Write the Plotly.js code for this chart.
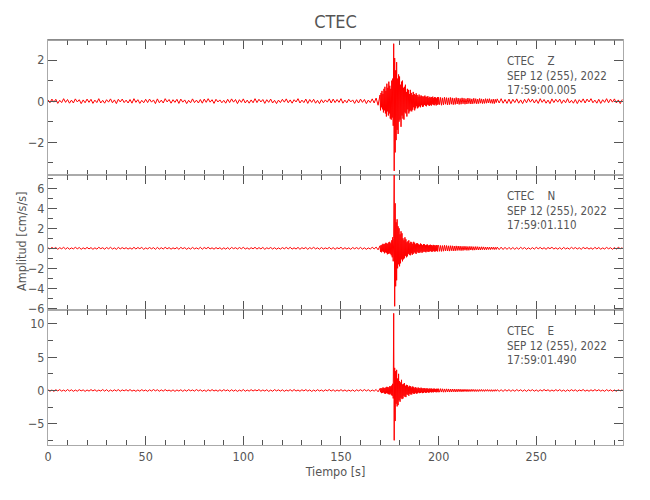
<!DOCTYPE html>
<html>
<head>
<meta charset="utf-8">
<script src="https://cdn.plot.ly/plotly-3.0.1.min.js"></script>
<style>html,body{margin:0;padding:0;background:#fff;}#chart{width:650px;height:500px;}</style>
</head>
<body>
<div id="chart"></div>
<script>
// ---- Data ----
// Sampling: pre-event 1 s steps from 0 s, event 0.25 s steps from 170 s, coda 0.5 s steps from 200 s, tail 1 s steps from 230 s
var preStart = 0, preStep = 1;
var evStart = 170, evStep = 0.25;
var codaStart = 200, codaStep = 0.5;
var tailStart = 230, tailStep = 1;

// Component Z (cm/s/s)
var zPre = [
0.06,-0.08,0.1,-0.05,0.09,-0.11,0.04,-0.07,0.12,-0.06,
0.08,-0.1,0.05,-0.09,0.11,-0.04,0.07,-0.12,0.06,-0.08,
0.1,-0.06,0.09,-0.11,0.05,-0.07,0.12,-0.09,0.04,-0.1,
0.07,-0.05,0.11,-0.08,0.06,-0.12,0.09,-0.04,0.1,-0.07,
0.05,-0.09,0.08,-0.1,0.12,-0.06,0.07,-0.11,0.04,-0.08,
0.09,-0.07,0.1,-0.05,0.06,-0.12,0.11,-0.08,0.05,-0.09,
0.12,-0.04,0.08,-0.1,0.07,-0.06,0.09,-0.11,0.1,-0.05,
0.06,-0.12,0.04,-0.08,0.11,-0.07,0.05,-0.09,0.08,-0.1,
0.1,-0.06,0.12,-0.05,0.07,-0.11,0.09,-0.04,0.06,-0.08,
0.04,-0.1,0.09,-0.07,0.11,-0.05,0.08,-0.12,0.07,-0.06,
0.11,-0.09,0.05,-0.1,0.06,-0.08,0.12,-0.07,0.09,-0.04,
0.08,-0.11,0.07,-0.06,0.1,-0.09,0.04,-0.12,0.05,-0.07,
0.09,-0.05,0.11,-0.08,0.06,-0.1,0.07,-0.04,0.12,-0.09,
0.05,-0.07,0.1,-0.11,0.08,-0.06,0.09,-0.1,0.04,-0.12,
0.07,-0.08,0.06,-0.05,0.11,-0.09,0.1,-0.07,0.08,-0.06,
0.12,-0.1,0.05,-0.08,0.09,-0.04,0.06,-0.11,0.07,-0.09,
0.1,-0.06,0.08,-0.12,0.05,-0.07,0.11,-0.09,0.15,-0.2];
var zEvent = [
0.3,-0.45,0.4,-0.3,0.5,-0.4,0.35,-0.55,
0.6,-0.45,0.7,-0.6,0.5,-0.75,0.85,-0.5,
0.65,-0.7,0.95,-0.6,0.75,-0.85,0.6,-0.9,
1.0,-0.8,1.1,-1.2,2.8,-3.4,2.1,-2.5,
1.5,-1.9,1.9,-1.4,1.1,-1.6,1.3,-1.0,
1.2,-0.9,0.8,-1.25,0.95,-0.7,1.0,-0.85,
0.65,-0.9,0.7,-0.55,0.8,-0.6,0.45,-0.75,
0.6,-0.4,0.55,-0.6,0.35,-0.5,0.55,-0.45,
0.4,-0.5,0.3,-0.42,0.45,-0.3,0.35,-0.45,
0.3,-0.35,0.38,-0.25,0.3,-0.35,0.22,-0.3,
0.32,-0.25,0.22,-0.3,0.28,-0.2,0.25,-0.28,
0.2,-0.26,0.24,-0.18,0.27,-0.22,0.2,-0.25,
0.22,-0.17,0.24,-0.2,0.16,-0.23,0.21,-0.18,
0.17,-0.22,0.2,-0.15,0.22,-0.18,0.15,-0.2,
0.2,-0.15,0.18,-0.21,0.14,-0.18,0.2,-0.16];
var zCoda = [
0.19,-0.17,0.18,-0.2,0.16,-0.18,0.19,-0.15,0.17,-0.18,
0.16,-0.17,0.18,-0.15,0.16,-0.17,0.14,-0.16,0.17,-0.14,
0.15,-0.16,0.13,-0.15,0.16,-0.13,0.14,-0.15,0.12,-0.14,
0.15,-0.12,0.13,-0.14,0.11,-0.13,0.14,-0.11,0.12,-0.13,
0.1,-0.12,0.13,-0.1,0.11,-0.12,0.09,-0.11,0.12,-0.1,
0.11,-0.09,0.12,-0.1,0.08,-0.11,0.1,-0.12,0.09,-0.07];
var zTail = [
0.11,-0.09,0.12,-0.1,0.08,-0.11,0.1,-0.12,0.09,-0.07,
0.11,-0.1,0.06,-0.12,0.09,-0.08,0.12,-0.05,0.1,-0.09,
0.07,-0.11,0.12,-0.06,0.08,-0.1,0.05,-0.12,0.11,-0.07,
0.09,-0.05,0.1,-0.11,0.06,-0.08,0.12,-0.09,0.04,-0.1,
0.08,-0.12,0.07,-0.06,0.11,-0.09,0.1,-0.04,0.12,-0.08,
0.05,-0.1,0.09,-0.11,0.07,-0.06,0.12,-0.08,0.1,-0.05,
0.11,-0.09,0.06,-0.12,0.08];

// Component N (cm/s/s)
var nPre = [
0.05,-0.07,0.09,-0.04,0.08,-0.1,0.06,-0.05,0.1,-0.08,
0.07,-0.09,0.04,-0.06,0.1,-0.05,0.08,-0.1,0.05,-0.07,
0.09,-0.06,0.07,-0.1,0.05,-0.08,0.1,-0.04,0.06,-0.09,
0.08,-0.05,0.1,-0.07,0.04,-0.1,0.09,-0.06,0.07,-0.05,
0.06,-0.08,0.05,-0.09,0.1,-0.07,0.08,-0.04,0.09,-0.1,
0.04,-0.06,0.08,-0.05,0.07,-0.1,0.09,-0.08,0.06,-0.07,
0.1,-0.05,0.07,-0.09,0.05,-0.06,0.08,-0.1,0.09,-0.04,
0.07,-0.1,0.05,-0.08,0.09,-0.06,0.04,-0.07,0.1,-0.09,
0.08,-0.04,0.1,-0.06,0.05,-0.09,0.07,-0.05,0.06,-0.1,
0.05,-0.08,0.07,-0.1,0.09,-0.04,0.06,-0.07,0.08,-0.05,
0.1,-0.07,0.04,-0.09,0.06,-0.05,0.1,-0.08,0.07,-0.06,
0.09,-0.1,0.05,-0.04,0.08,-0.07,0.06,-0.09,0.04,-0.08,
0.07,-0.05,0.09,-0.06,0.1,-0.08,0.05,-0.07,0.09,-0.1,
0.06,-0.04,0.08,-0.1,0.07,-0.05,0.1,-0.06,0.05,-0.09,
0.08,-0.07,0.04,-0.05,0.09,-0.08,0.07,-0.1,0.06,-0.04,
0.1,-0.09,0.06,-0.07,0.05,-0.1,0.08,-0.05,0.07,-0.06,
0.09,-0.08,0.05,-0.1,0.04,-0.07,0.1,-0.06,0.12,-0.15];
var nEvent = [
0.25,-0.35,0.3,-0.4,0.35,-0.3,0.45,-0.35,
0.4,-0.5,0.45,-0.4,0.55,-0.45,0.5,-0.6,
0.45,-0.55,0.6,-0.5,0.65,-0.55,0.5,-0.7,
0.8,-0.9,1.1,-1.3,1.0,7.6,-5.8,4.5,
-3.8,2.6,-3.2,2.9,-2.0,2.2,-1.6,2.0,
-1.8,1.4,-1.5,1.7,-1.1,1.5,-1.3,1.0,
-1.1,0.8,-1.0,1.1,-0.75,0.9,-0.9,0.6,
-0.8,0.7,-0.55,0.8,-0.65,0.5,-0.7,0.65,
-0.5,0.6,-0.65,0.45,-0.55,0.65,-0.4,0.55,
-0.5,0.4,-0.55,0.5,-0.35,0.5,-0.45,0.4,
-0.45,0.35,-0.42,0.48,-0.32,0.4,-0.45,0.3,
-0.38,0.42,-0.3,0.4,-0.36,0.3,-0.4,0.35,
-0.3,0.38,-0.34,0.28,-0.36,0.32,-0.3,0.36,
-0.28,0.33,-0.35,0.27,-0.32,0.34,-0.26,0.31,
-0.33,0.26,-0.3,0.33,-0.25,0.3,-0.32,0.27];
var nCoda = [
0.32,-0.3,0.28,-0.31,0.27,-0.29,0.3,-0.26,0.28,-0.27,
0.25,-0.28,0.26,-0.24,0.25,-0.26,0.23,-0.25,0.24,-0.22,
0.23,-0.21,0.22,-0.23,0.2,-0.22,0.21,-0.19,0.2,-0.21,
0.18,-0.2,0.19,-0.17,0.18,-0.19,0.16,-0.18,0.17,-0.15,
0.16,-0.17,0.14,-0.16,0.15,-0.13,0.14,-0.15,0.12,-0.14,
0.13,-0.12,0.11,-0.13,0.12,-0.1,0.11,-0.12,0.1,-0.11];
var nTail = [
0.12,-0.13,0.11,-0.12,0.1,-0.11,0.09,-0.1,0.08,-0.1,
0.07,-0.09,0.1,-0.06,0.08,-0.1,0.05,-0.09,0.07,-0.08,
0.1,-0.05,0.09,-0.07,0.06,-0.1,0.08,-0.04,0.1,-0.07,
0.05,-0.09,0.07,-0.1,0.09,-0.06,0.04,-0.08,0.1,-0.05,
0.08,-0.07,0.06,-0.1,0.09,-0.04,0.07,-0.08,0.05,-0.1,
0.1,-0.06,0.08,-0.09,0.04,-0.07,0.09,-0.05,0.06,-0.1,
0.07,-0.08,0.1,-0.04,0.06];

// Component E (cm/s/s)
var ePre = [
0.1,-0.12,0.08,-0.14,0.11,-0.07,0.13,-0.1,0.06,-0.12,
0.14,-0.08,0.1,-0.13,0.07,-0.11,0.12,-0.06,0.09,-0.14,
0.08,-0.1,0.13,-0.07,0.11,-0.12,0.06,-0.09,0.14,-0.1,
0.12,-0.14,0.07,-0.11,0.1,-0.08,0.13,-0.12,0.09,-0.06,
0.11,-0.09,0.14,-0.1,0.06,-0.13,0.08,-0.11,0.12,-0.07,
0.07,-0.13,0.1,-0.08,0.14,-0.06,0.11,-0.12,0.09,-0.1,
0.13,-0.07,0.06,-0.12,0.1,-0.14,0.08,-0.09,0.11,-0.13,
0.09,-0.11,0.12,-0.06,0.08,-0.1,0.14,-0.07,0.1,-0.12,
0.06,-0.14,0.11,-0.09,0.13,-0.08,0.07,-0.12,0.1,-0.11,
0.12,-0.06,0.09,-0.13,0.11,-0.1,0.08,-0.14,0.06,-0.09,
0.14,-0.12,0.07,-0.1,0.12,-0.08,0.1,-0.06,0.13,-0.11,
0.08,-0.09,0.11,-0.14,0.06,-0.12,0.13,-0.07,0.09,-0.1,
0.1,-0.13,0.06,-0.08,0.12,-0.11,0.14,-0.09,0.07,-0.12,
0.11,-0.07,0.13,-0.1,0.09,-0.14,0.06,-0.11,0.12,-0.08,
0.07,-0.12,0.1,-0.06,0.14,-0.09,0.11,-0.13,0.08,-0.1,
0.13,-0.1,0.08,-0.12,0.06,-0.11,0.09,-0.14,0.1,-0.07,
0.12,-0.09,0.14,-0.08,0.11,-0.13,0.07,-0.1,0.15,-0.2];
var eEvent = [
0.3,-0.25,0.35,-0.4,0.3,-0.35,0.45,-0.3,
0.4,-0.45,0.35,-0.5,0.45,-0.4,0.55,-0.45,
0.5,-0.55,0.45,-0.6,0.65,-0.5,0.6,-0.7,
0.75,-0.8,1.0,-1.2,11.6,-7.5,3.4,-4.6,
2.9,-2.0,3.1,-2.4,1.8,-2.2,2.5,-1.5,
1.4,-1.7,1.2,-1.1,1.6,-1.3,0.9,-1.2,
1.0,-0.8,1.1,-0.95,0.7,-1.0,0.85,-0.6,
0.8,-0.65,0.55,-0.8,0.7,-0.5,0.65,-0.6,
0.45,-0.6,0.6,-0.4,0.55,-0.5,0.35,-0.5,
0.5,-0.35,0.42,-0.48,0.3,-0.42,0.45,-0.3,
0.38,-0.4,0.3,-0.36,0.42,-0.28,0.34,-0.4,
0.28,-0.35,0.36,-0.26,0.33,-0.34,0.25,-0.33,
0.34,-0.25,0.28,-0.33,0.24,-0.3,0.31,-0.23,
0.25,-0.3,0.3,-0.24,0.22,-0.29,0.28,-0.22,
0.27,-0.23,0.21,-0.28,0.26,-0.2,0.25,-0.27];
var eCoda = [
0.26,-0.25,0.27,-0.24,0.25,-0.26,0.23,-0.25,0.24,-0.22,
0.23,-0.24,0.21,-0.23,0.22,-0.2,0.21,-0.22,0.19,-0.21,
0.2,-0.18,0.19,-0.2,0.17,-0.19,0.18,-0.16,0.17,-0.18,
0.16,-0.17,0.15,-0.16,0.17,-0.14,0.15,-0.16,0.14,-0.15,
0.13,-0.15,0.14,-0.12,0.15,-0.13,0.12,-0.14,0.13,-0.11,
0.14,-0.12,0.11,-0.13,0.12,-0.14,0.1,-0.12,0.13,-0.11];
var eTail = [
0.12,-0.13,0.11,-0.14,0.13,-0.1,0.12,-0.13,0.1,-0.12,
0.13,-0.08,0.11,-0.12,0.09,-0.14,0.1,-0.07,0.12,-0.11,
0.08,-0.13,0.1,-0.09,0.14,-0.06,0.11,-0.12,0.07,-0.1,
0.12,-0.08,0.13,-0.11,0.06,-0.14,0.09,-0.1,0.12,-0.07,
0.1,-0.13,0.08,-0.06,0.14,-0.11,0.07,-0.12,0.1,-0.09,
0.13,-0.07,0.11,-0.1,0.06,-0.13,0.12,-0.08,0.09,-0.11,
0.07,-0.12,0.1,-0.06,0.11];

// Labels
var station = "CTEC";
var components = ["Z", "N", "E"];
var dateLabel = "SEP 12 (255), 2022";
var startTimes = ["17:59:00.005", "17:59:01.110", "17:59:01.490"];
var yRanges = [[-3.6, 2.98], [-6.17, 7.33], [-8.2, 12.1]];
var yDticks = [2, 2, 5];
var yMinor = [1, 1, 2.5];
var xRange = [0, 294.4];
var xTitle = "Tiempo [s]";
var yTitle = "Amplitud [cm/s/s]";

// ---- Build traces ----
function times(start, step, n) { var a = []; for (var i = 0; i < n; i++) a.push(start + i * step); return a; }
function join(pre, ev, coda, tail) {
  return {
    t: times(preStart, preStep, pre.length).concat(
         times(evStart, evStep, ev.length),
         times(codaStart, codaStep, coda.length),
         times(tailStart, tailStep, tail.length)),
    v: pre.concat(ev, coda, tail)
  };
}
var series = [join(zPre, zEvent, zCoda, zTail), join(nPre, nEvent, nCoda, nTail), join(ePre, eEvent, eCoda, eTail)];
var axisIds = [["x", "y"], ["x2", "y2"], ["x3", "y3"]];

var FONT = '"DejaVu Sans Condensed", "Liberation Sans Narrow", sans-serif';
var TXT = '#555555';
var LINE = '#aaaaaa';

var data = series.map(function (s, i) {
  return {
    type: 'scatter', mode: 'lines', x: s.t, y: s.v,
    xaxis: axisIds[i][0], yaxis: axisIds[i][1],
    line: { color: '#ff0000', width: 1, simplify: false },
    hoverinfo: 'skip', showlegend: false
  };
});

function xAxis(anchor, labels) {
  return {
    anchor: anchor, domain: [0, 1], range: xRange, showline: true, linecolor: LINE, linewidth: 1,
    mirror: 'allticks', ticks: 'inside', ticklen: 9, tickwidth: 1, tickcolor: '#555',
    dtick: 50, tick0: 0, showgrid: false, zeroline: false, showticklabels: labels,
    minor: { dtick: 10, ticks: 'inside', ticklen: 5, tickcolor: '#555', tickwidth: 1, showgrid: false },
    tickfont: { family: FONT, size: 12.5, color: TXT }
  };
}
function yAxis(i, anchor, domain) {
  return {
    anchor: anchor, domain: domain, range: yRanges[i], showline: true, linecolor: LINE, linewidth: 1,
    mirror: 'allticks', ticks: 'inside', ticklen: 9, tickwidth: 1, tickcolor: '#555',
    dtick: yDticks[i], tick0: 0, showgrid: false, zeroline: false,
    minor: { dtick: yMinor[i], ticks: 'inside', ticklen: 5, tickcolor: '#555', tickwidth: 1, showgrid: false },
    tickfont: { family: FONT, size: 12.5, color: TXT }
  };
}

var layout = {
  width: 650, height: 500,
  margin: { l: 48, r: 27, t: 40, b: 55 },
  paper_bgcolor: '#fff', plot_bgcolor: '#fff',
  font: { family: FONT, color: TXT },
  title: { text: station, font: { family: FONT, size: 18, color: TXT }, x: 0.5, xref: 'paper', y: 1 - 22 / 500, yref: 'container', yanchor: 'middle' },
  xaxis: xAxis('y', false),
  xaxis2: xAxis('y2', false),
  xaxis3: Object.assign(xAxis('y3', true), { title: { text: xTitle, font: { family: FONT, size: 12.5, color: TXT }, standoff: 4 } }),
  yaxis: yAxis(0, 'x', [2 / 3, 1]),
  yaxis2: yAxis(1, 'x2', [1 / 3, 2 / 3]),
  yaxis3: yAxis(2, 'x3', [0, 1 / 3]),
  shapes: [{ type: 'line', xref: 'paper', yref: 'paper', x0: 0, x1: 1, y0: 1, y1: 1, line: { color: '#808080', width: 1.5 } }],
  annotations: [{
    text: yTitle, xref: 'paper', yref: 'paper', x: (22 - 48) / 575, y: 1 - (241 - 40) / 405,
    xanchor: 'center', yanchor: 'middle', textangle: -90, showarrow: false,
    font: { family: FONT, size: 12.5, color: TXT }
  }]
};

var lineOffsets = [21, 36, 50];
var panelH = 135;
components.forEach(function (c, i) {
  var yref = (i === 0 ? 'y' : 'y' + (i + 1)) + ' domain';
  var texts = [station + '\u00a0\u00a0\u00a0\u00a0' + c, dateLabel.replace(/ /g, '\u00a0'), startTimes[i]];
  texts.forEach(function (t, k) {
    layout.annotations.push({
      text: t, xref: 'paper', yref: yref, x: (505 - 48) / 575, y: 1 - lineOffsets[k] / panelH,
      xanchor: 'left', yanchor: 'middle', showarrow: false,
      font: { family: FONT, size: 11.5, color: TXT }
    });
  });
});

Plotly.newPlot('chart', data, layout, { staticPlot: true, displayModeBar: false });
</script>
</body>
</html>
